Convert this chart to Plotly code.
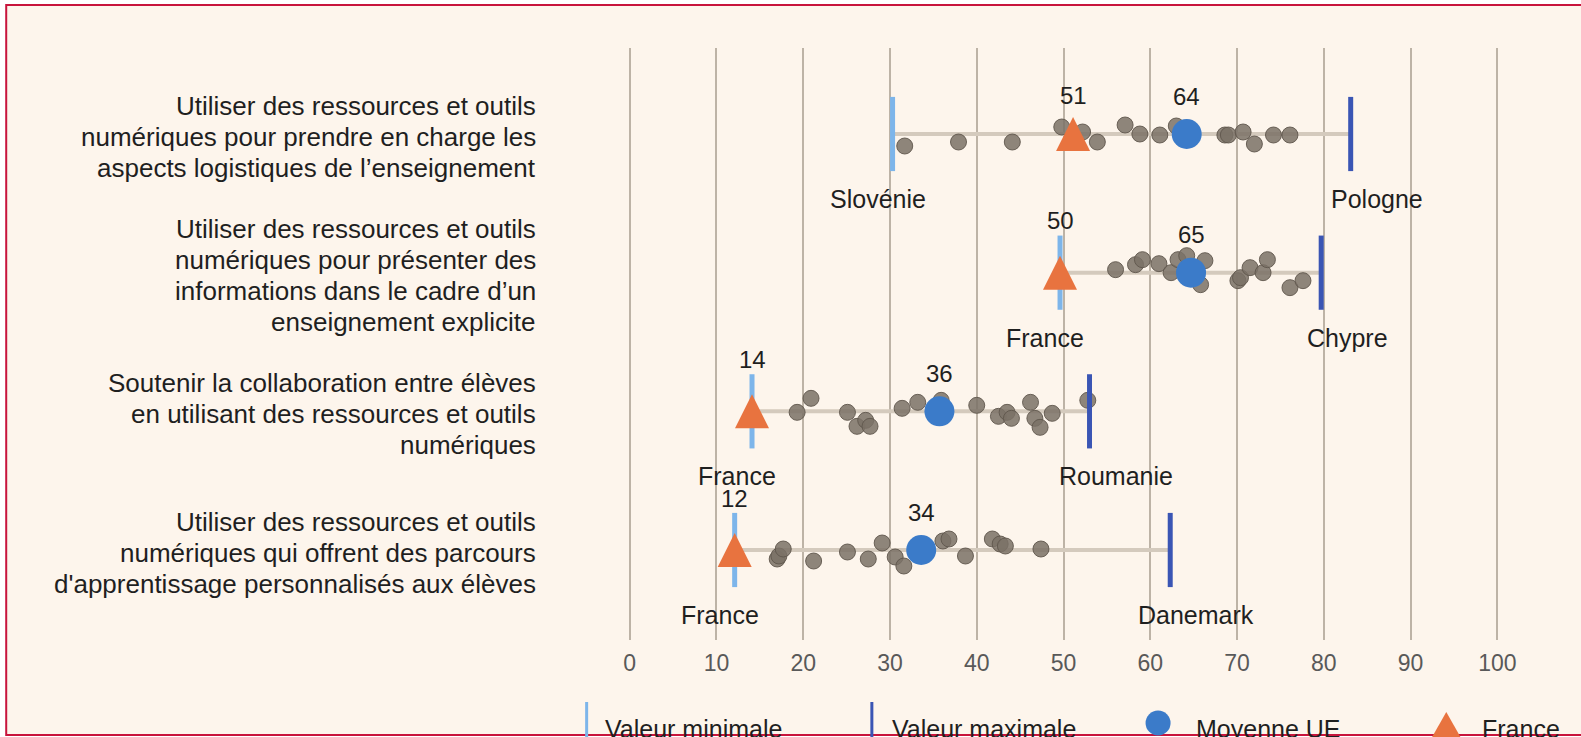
import plotly.graph_objects as go

# ---------------- data ----------------
categories = [
    "Utiliser des ressources et outils<br>numériques pour prendre en charge les<br>aspects logistiques de l’enseignement",
    "Utiliser des ressources et outils<br>numériques pour présenter des<br>informations dans le cadre d’un<br>enseignement explicite",
    "Soutenir la collaboration entre élèves<br>en utilisant des ressources et outils<br>numériques",
    "Utiliser des ressources et outils<br>numériques qui offrent des parcours<br>d'apprentissage personnalisés aux élèves",
]
min_values = [30.3, 49.6, 14.1, 12.1]
min_countries = ["Slovénie", "France", "France", "France"]
max_values = [83.1, 79.7, 53.0, 62.3]
max_countries = ["Pologne", "Chypre", "Roumanie", "Danemark"]
eu_mean = [64.2, 64.7, 35.7, 33.6]
france = [51.1, 49.6, 14.1, 12.1]

countries_row1 = [31.7, 37.9, 44.1, 49.8, 52.2, 53.9, 57.1, 58.8, 61.1, 63.0, 68.6, 69.0, 70.7, 72.0, 74.2, 76.1]
jitter_row1 = [12, 8, 8, -7, -2, 8, -9, 0, 1, -8, 1, 1, -2, 10, 1, 1]
countries_row2 = [56.0, 58.3, 59.1, 61.0, 62.4, 63.2, 64.2, 65.8, 66.3, 70.1, 70.4, 71.5, 73.0, 73.5, 76.1, 77.6]
jitter_row2 = [-3, -8, -13, -9, 0, -13, -17, 12, -12, 8, 5, -5, 0, -13, 15, 8]
countries_row3 = [19.3, 20.9, 25.1, 26.2, 27.2, 27.7, 31.4, 33.2, 35.9, 40.0, 42.5, 43.5, 44.0, 46.2, 46.7, 47.3, 48.7, 52.8]
jitter_row3 = [1, -13, 1, 15, 9, 15, -3, -9, -11, -6, 5, 1, 7, -9, 7, 16, 2, -11]
countries_row4 = [17.0, 17.2, 17.7, 21.2, 25.1, 27.5, 29.1, 30.6, 31.6, 36.1, 36.8, 38.7, 41.8, 42.7, 43.3, 47.4]
jitter_row4 = [9, 6, -1, 11, 2, 9, -7, 7, 16, -9, -11, 6, -11, -6, -4, -1]

country_values = [countries_row1, countries_row2, countries_row3, countries_row4]
country_jitter = [jitter_row1, jitter_row2, jitter_row3, jitter_row4]

x_ticks = list(range(0, 101, 10))
legend_labels = ["Valeur minimale", "Valeur maximale", "Moyenne UE", "France"]

# ---------------- style ----------------
W, H = 1581, 737
FONT = "Liberation Sans, Arial, sans-serif"
BG = "#FDF5EC"
C_MIN = "#7DB5EA"
C_MAX = "#3A55B4"
C_EU = "#3B7BC9"
C_FR = "#E8733F"
C_DOT = "rgba(122,113,102,0.85)"
C_DOT_LINE = "rgba(95,87,77,0.9)"
C_CONN = "#D4CABD"
C_GRID = "#BDB3A6"
TXT = "#1f1f1f"
TRI = 34

X0_PX, X100_PX = 630, 1497
KX = (X100_PX - X0_PX) / 100.0
XR = [-1, 101]
L = X0_PX - (0 - XR[0]) * KX
PW = (XR[1] - XR[0]) * KX
R = W - L - PW
T, B_PX = 48, 640
PH = B_PX - T
ROW_PX = [134, 272.7, 411.3, 550]
KY = (ROW_PX[-1] - ROW_PX[0]) / 3.0
YR = [3 + (B_PX - ROW_PX[-1]) / KY, -(ROW_PX[0] - T) / KY]


def px_x(p):
    return (p - L) / PW


def px_y(p):
    return 1 - (p - T) / PH


n = len(categories)
rows = list(range(n))

fig = go.Figure()

# connectors
cx, cy = [], []
for i in rows:
    cx += [min_values[i], max_values[i], None]
    cy += [i, i, None]
fig.add_trace(go.Scatter(x=cx, y=cy, mode="lines", line=dict(color=C_CONN, width=4),
                         hoverinfo="skip", showlegend=False))

# country dots
dx, dy = [], []
for i in rows:
    for v, j in zip(country_values[i], country_jitter[i]):
        dx.append(v)
        dy.append(i + j / KY)
fig.add_trace(go.Scatter(x=dx, y=dy, mode="markers",
                         marker=dict(size=16, color=C_DOT, line=dict(color=C_DOT_LINE, width=1)),
                         showlegend=False))

# min / max (line-ns length = 1.4 * size)
fig.add_trace(go.Scatter(x=min_values, y=rows, mode="markers",
                         marker=dict(symbol="line-ns", size=53, line=dict(color=C_MIN, width=5)),
                         name=legend_labels[0], showlegend=False))
fig.add_trace(go.Scatter(x=max_values, y=rows, mode="markers",
                         marker=dict(symbol="line-ns", size=53, line=dict(color=C_MAX, width=5)),
                         name=legend_labels[1], showlegend=False))
# EU mean
fig.add_trace(go.Scatter(x=eu_mean, y=rows, mode="markers",
                         marker=dict(symbol="circle", size=30, color=C_EU),
                         name=legend_labels[2], showlegend=False))
# France: upward triangle centred on the point (arrow-down rotated 180, shifted by half its height)
fig.add_trace(go.Scatter(x=france, y=rows, mode="markers",
                         marker=dict(symbol="arrow-down", angle=180, size=TRI, color=C_FR,
                                     standoff=TRI / 2, line=dict(width=0)),
                         name=legend_labels[3], showlegend=False))

ann = []
for i in rows:
    fr_shift = 52 if abs(france[i] - min_values[i]) < 0.5 else 39
    ann.append(dict(x=france[i], y=i, text=f"{france[i]:.0f}", showarrow=False, yshift=fr_shift,
                    font=dict(family=FONT, size=24, color=TXT)))
    ann.append(dict(x=eu_mean[i], y=i, text=f"{eu_mean[i]:.0f}", showarrow=False, yshift=38,
                    font=dict(family=FONT, size=24, color=TXT)))
    ann.append(dict(x=min_values[i], y=i, text=min_countries[i], showarrow=False, yshift=-65, xshift=-15,
                    font=dict(family=FONT, size=25, color=TXT)))
    ann.append(dict(x=max_values[i], y=i, text=max_countries[i], showarrow=False, yshift=-65, xshift=26,
                    font=dict(family=FONT, size=25, color=TXT)))
    lines = categories[i].split("<br>")
    nl = len(lines)
    for j, t in enumerate(lines):
        ann.append(dict(xref="paper", x=px_x(538), y=i, yref="y", text=t, showarrow=False,
                        xanchor="right", yshift=-3 - (j - (nl - 1) / 2) * 31,
                        font=dict(family=FONT, size=26, color=TXT)))

# legend texts
leg_text_x = [603, 890, 1194, 1480]
for t, xp in zip(legend_labels, leg_text_x):
    ann.append(dict(xref="paper", yref="paper", x=px_x(xp), y=px_y(729), text=t, showarrow=False,
                    xanchor="left", yanchor="middle", font=dict(family=FONT, size=25, color=TXT)))

shapes = [
    dict(type="rect", xref="paper", yref="paper", x0=px_x(7), x1=px_x(1620), y0=px_y(5), y1=px_y(735),
         line=dict(color="#C8143C", width=2), fillcolor=BG, layer="below"),
    dict(type="line", xref="paper", yref="paper", x0=px_x(587), x1=px_x(587), y0=px_y(702), y1=px_y(745),
         line=dict(color=C_MIN, width=3)),
    dict(type="line", xref="paper", yref="paper", x0=px_x(872), x1=px_x(872), y0=px_y(702), y1=px_y(745),
         line=dict(color=C_MAX, width=3)),
    dict(type="circle", xref="paper", yref="paper", x0=px_x(1145.5), x1=px_x(1170.5), y0=px_y(710.5),
         y1=px_y(735.5), line=dict(width=0), fillcolor=C_EU),
    dict(type="path", xref="paper", yref="paper",
         path=f"M {px_x(1446)},{px_y(712)} L {px_x(1463)},{px_y(742)} L {px_x(1429)},{px_y(742)} Z",
         line=dict(width=0), fillcolor=C_FR),
]

fig.update_layout(
    width=W, height=H, autosize=False,
    margin=dict(l=L, r=R, t=T, b=H - B_PX, pad=0),
    paper_bgcolor="white", plot_bgcolor="rgba(0,0,0,0)",
    annotations=ann, shapes=shapes, showlegend=False,
    font=dict(family=FONT),
)
fig.update_xaxes(range=XR, tickvals=x_ticks, ticktext=[str(v) for v in x_ticks], showgrid=True,
                 gridcolor=C_GRID, gridwidth=1.5, zeroline=False, showline=False, ticks="",
                 ticklabelstandoff=7,
                 tickfont=dict(family=FONT, size=23, color="#595959"))
fig.update_yaxes(range=YR, showgrid=False, zeroline=False, showticklabels=False, ticks="", showline=False)

fig.write_html("out.html", config={"displayModeBar": False},
               post_script="document.body.style.margin='0';document.body.style.overflow='hidden';")
